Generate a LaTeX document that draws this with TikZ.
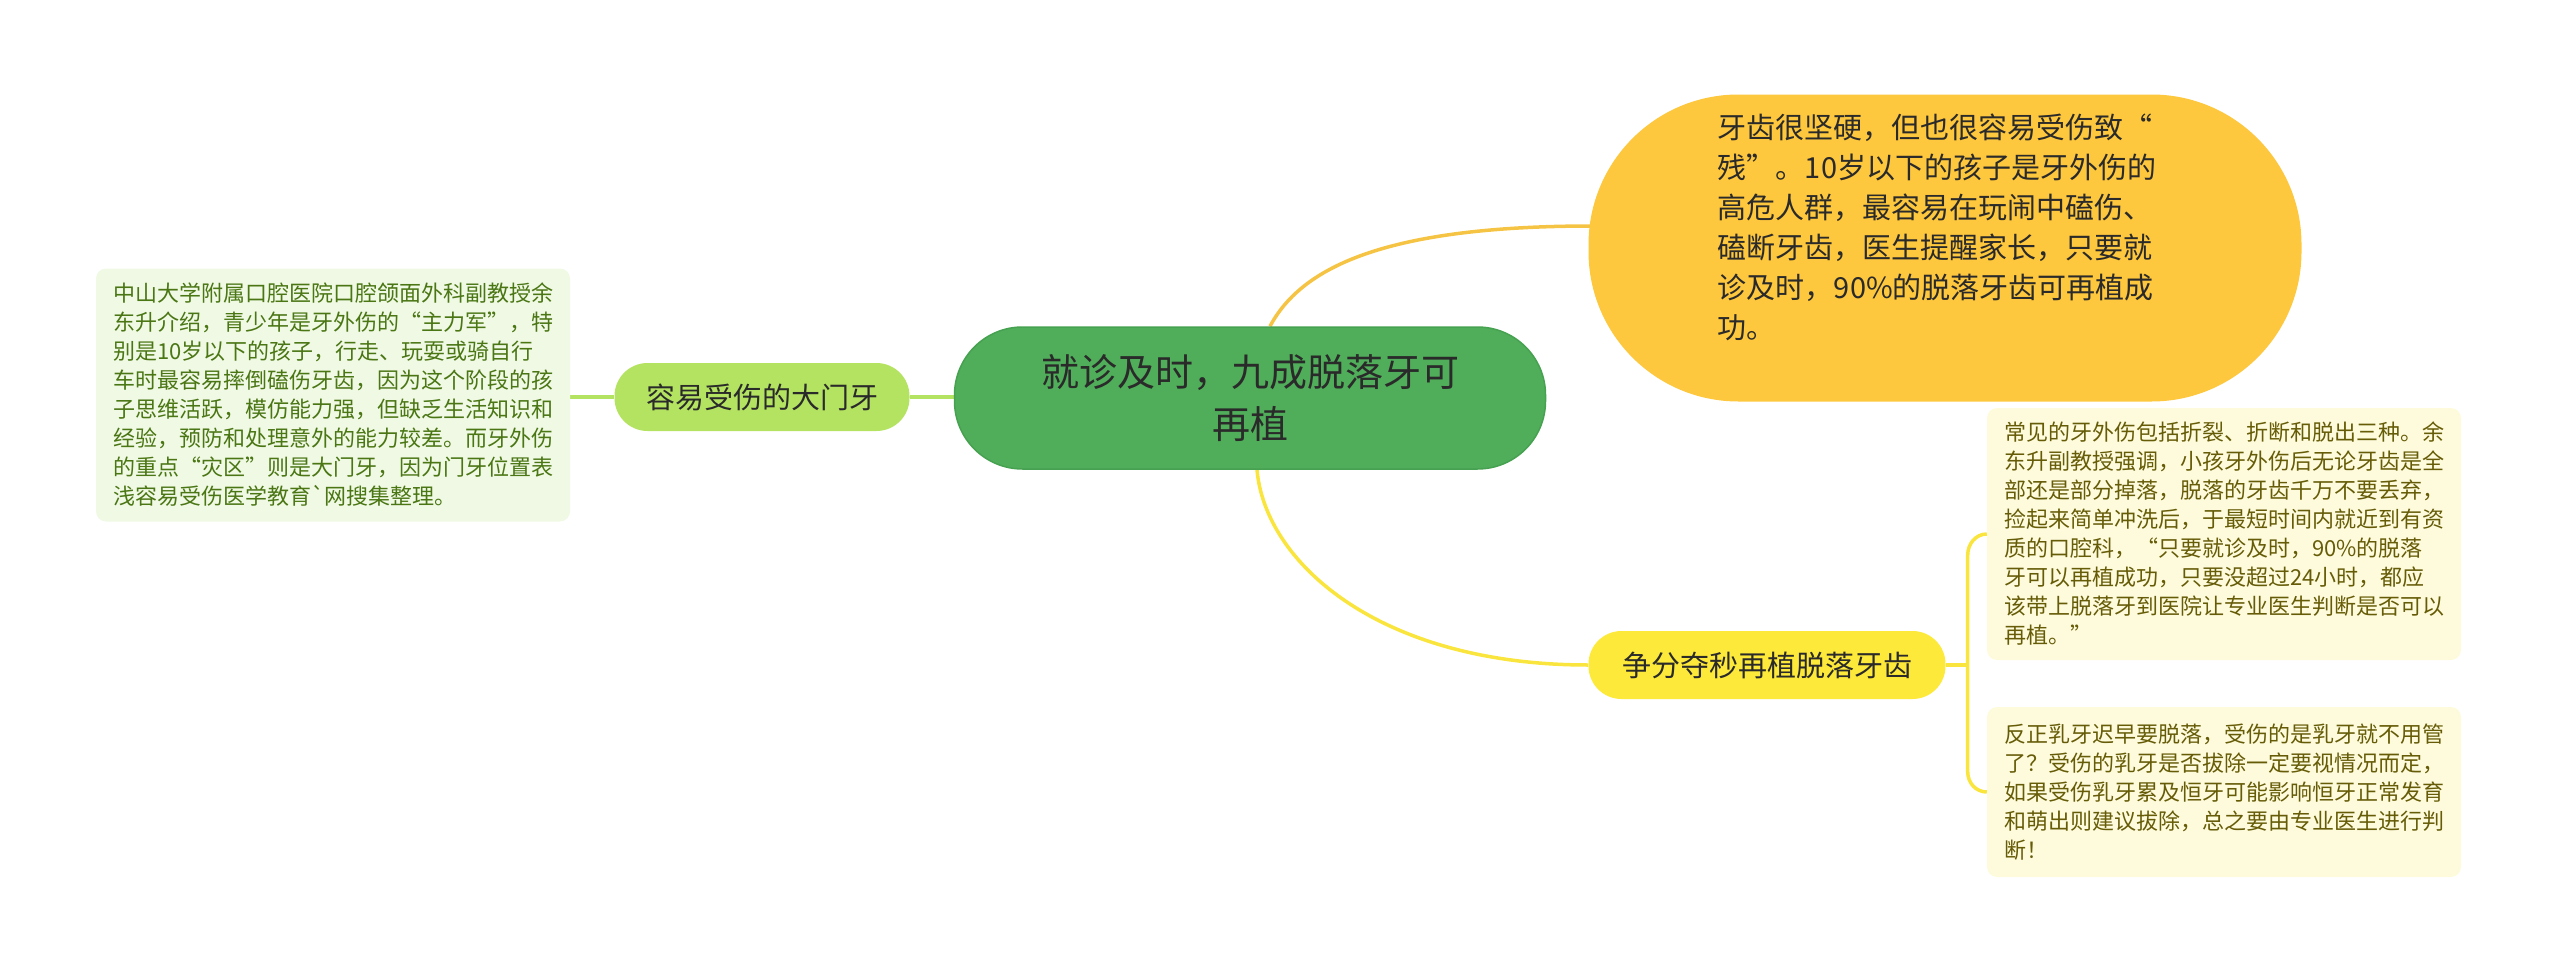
\documentclass[tikz,border=0pt]{standalone}
\usepackage{fontspec}
\newfontfamily\cjk{Noto Sans CJK SC}
\usetikzlibrary{calc,backgrounds}
\definecolor{cgreen}{HTML}{50AE5A}
\definecolor{cgreenb}{HTML}{46A150}
\definecolor{lgreen}{HTML}{B4E362}
\definecolor{lleaf}{HTML}{F0F9E4}
\definecolor{lleaftxt}{HTML}{4A7614}
\definecolor{orfill}{HTML}{FDC73E}
\definecolor{orline}{HTML}{F6C444}
\definecolor{yefill}{HTML}{FDE93A}
\definecolor{yeline}{HTML}{F9E53E}
\definecolor{rleaf}{HTML}{FEFBDC}
\definecolor{rleaftxt}{HTML}{665C08}
\definecolor{txtdark}{HTML}{2A2A2A}
\begin{document}
\begin{tikzpicture}[x=1pt,y=-1pt,
  base/.style={inner sep=0pt, text=txtdark},
  centralnode/.style={base, draw=cgreenb, line width=1.5pt, fill=cgreen, rounded corners=68pt,
     minimum width=591pt, minimum height=142pt, align=center, font=\cjk\fontsize{38}{52}\selectfont},
  branchnode/.style={base, rounded corners=33pt, minimum height=68pt, font=\cjk\fontsize{29}{36}\selectfont},
  leafnode/.style={inner sep=0pt, rounded corners=10pt, minimum width=474pt, align=left,
     font=\cjk\fontsize{22}{29}\selectfont},
  trshape/.style={inner sep=0pt, fill=orfill, rounded corners=150pt, minimum width=713pt, minimum height=307pt},
  trtext/.style={base, align=left, font=\cjk\fontsize{29}{40}\selectfont},
  lgconn/.style={draw=lgreen, line width=3.5pt},
  orconn/.style={draw=orline, line width=3.5pt},
  yeconn/.style={draw=yeline, line width=3.5pt}
]
\useasboundingbox (0,0) rectangle (2560,974);

\node[centralnode] (c) at (1250,398) {就诊及时，九成脱落牙可\\再植};

\node[branchnode, fill=lgreen, minimum width=295pt] (bl) at (762,397) {容易受伤的大门牙};
\node[leafnode, fill=lleaf, text=lleaftxt, minimum height=253pt] (ll) at (333,395)
 {中山大学附属口腔医院口腔颌面外科副教授余\\
  东升介绍，青少年是牙外伤的“主力军”，特\\
  别是10岁以下的孩子，行走、玩耍或骑自行\\
  车时最容易摔倒磕伤牙齿，因为这个阶段的孩\\
  子思维活跃，模仿能力强，但缺乏生活知识和\\
  经验，预防和处理意外的能力较差。而牙外伤\\
  的重点“灾区”则是大门牙，因为门牙位置表\\
  浅容易受伤医学教育`网搜集整理。};

\node[trshape] (tr) at (1945,248) {};
\node[trtext] (trt) at (1937,227)
 {牙齿很坚硬，但也很容易受伤致“\\
  残”。10岁以下的孩子是牙外伤的\\
  高危人群，最容易在玩闹中磕伤、\\
  磕断牙齿，医生提醒家长，只要就\\
  诊及时，90\%的脱落牙齿可再植成\\
  功。};

\node[branchnode, fill=yefill, minimum width=357pt] (br) at (1767,665) {争分夺秒再植脱落牙齿};

\node[leafnode, fill=rleaf, text=rleaftxt, minimum height=252pt] (l1) at (2224,534)
 {常见的牙外伤包括折裂、折断和脱出三种。余\\
  东升副教授强调，小孩牙外伤后无论牙齿是全\\
  部还是部分掉落，脱落的牙齿千万不要丢弃，\\
  捡起来简单冲洗后，于最短时间内就近到有资\\
  质的口腔科，“只要就诊及时，90\%的脱落\\
  牙可以再植成功，只要没超过24小时，都应\\
  该带上脱落牙到医院让专业医生判断是否可以\\
  再植。”};
\node[leafnode, fill=rleaf, text=rleaftxt, minimum height=170pt] (l2) at (2224,792)
 {反正乳牙迟早要脱落，受伤的是乳牙就不用管\\
  了？受伤的乳牙是否拔除一定要视情况而定，\\
  如果受伤乳牙累及恒牙可能影响恒牙正常发育\\
  和萌出则建议拔除，总之要由专业医生进行判\\
  断！};

\begin{scope}[on background layer]
  \draw[lgconn] (bl.west) -- (bl.west -| ll.east);
  \draw[lgconn] (bl.east) -- (bl.east -| c.west);
  \coordinate (ctop) at ($(c.north)+(20,0)$);
  \coordinate (trin) at ($(tr.west)+(4,-22)$);
  \draw[orconn] (ctop) .. controls +(30,-56) and +(-214,0) .. (trin);
  \coordinate (cbot) at ($(c.south)+(7,0)$);
  \draw[yeconn] (cbot) .. controls +(8,93) and +(-209,0) .. (br.west);
  \coordinate (bj) at ($(br.east)+(22,0)$);
  \draw[yeconn] (br.east) -- (bj);
  \coordinate (bup) at ($(bj)+(0,-110)$);
  \coordinate (bdn) at ($(bj)+(0,107)$);
  \draw[yeconn] (l1.west) to[out=180,in=90] (bup) -- (bdn) to[out=-90,in=180] (l2.west);
\end{scope}
\end{tikzpicture}
\end{document}
